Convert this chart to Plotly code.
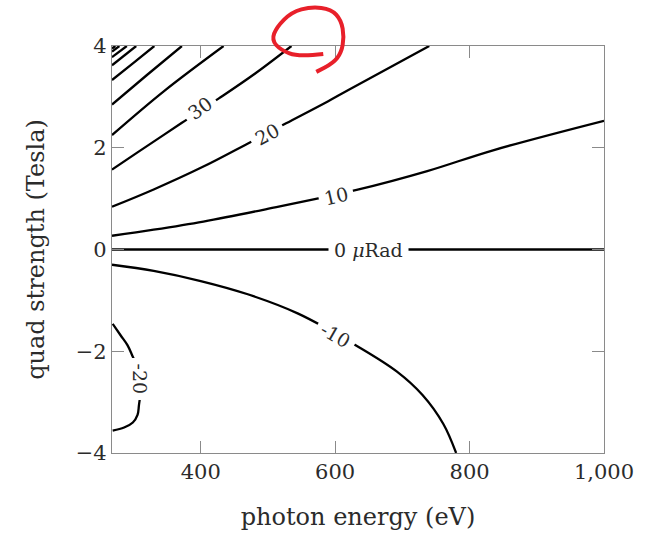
import plotly.graph_objects as go

# ---- data (photon energy in eV, quad strength in Tesla) ----
x_ticks = [400, 600, 800, 1000]
x_tick_text = ["400", "600", "800", "1,000"]
y_ticks = [-4, -2, 0, 2, 4]
y_tick_text = ["\u22124", "\u22122", "0", "2", "4"]

energy_p100 = [268, 273]
quad_p100 = [3.95, 4.0]
energy_p90 = [268, 279]
quad_p90 = [3.89, 4.0]
energy_p80 = [268, 290]
quad_p80 = [3.78, 4.0]
energy_p70 = [268, 304]
quad_p70 = [3.62, 4.0]
energy_p60 = [268, 300, 331]
quad_p60 = [3.33, 3.67, 4.0]
energy_p50 = [268, 320, 372]
quad_p50 = [2.85, 3.43, 4.0]
energy_p40 = [268, 345, 434]
quad_p40 = [2.25, 3.11, 4.0]
energy_p30 = [268, 306, 372, 427, 481, 535]
quad_p30 = [1.57, 1.91, 2.49, 2.97, 3.46, 4.0]
energy_p20 = [268, 330, 404, 471, 527, 589, 619, 740]
quad_p20 = [0.84, 1.18, 1.63, 2.09, 2.48, 2.91, 3.13, 4.0]
energy_p10 = [268, 330, 404, 493, 632, 737, 835, 1000]
quad_p10 = [0.27, 0.39, 0.55, 0.78, 1.17, 1.54, 1.95, 2.53]
energy_0 = [268, 1000]
quad_0 = [0.0, 0.0]
energy_m10 = [268, 330, 400, 470, 545, 633, 692, 730, 761, 780]
quad_m10 = [-0.30, -0.42, -0.62, -0.88, -1.26, -1.90, -2.40, -2.86, -3.43, -4.0]
energy_m20 = [269, 281, 291, 297, 311, 308, 306, 299, 286, 269]
quad_m20 = [-1.46, -1.69, -1.88, -2.05, -2.54, -3.07, -3.25, -3.40, -3.50, -3.56]

contours = [
    (energy_p100, quad_p100), (energy_p90, quad_p90), (energy_p80, quad_p80),
    (energy_p70, quad_p70), (energy_p60, quad_p60), (energy_p50, quad_p50),
    (energy_p40, quad_p40), (energy_p30, quad_p30), (energy_p20, quad_p20),
    (energy_p10, quad_p10), (energy_0, quad_0), (energy_m10, quad_m10),
    (energy_m20, quad_m20),
]

# contour labels: text, energy, quad, angle
label_text = ["30", "20", "10", "0 <i>\u03bc</i>Rad", "-10", "-20"]
label_energy = [399, 499, 601, 650, 600, 310]
label_quad = [2.78, 2.27, 1.06, 0.0, -1.69, -2.54]
label_angle = [-36, -28, -13, 0, 30, 90]

SERIF = "DejaVu Serif"
TEXT = "#2b2b2b"
AXC = "#8a8a8a"

fig = go.Figure()
for ex, qy in contours:
    fig.add_trace(go.Scatter(
        x=ex, y=qy, mode="lines",
        line=dict(color="black", width=2.3, shape="spline", smoothing=1.0),
        hoverinfo="skip", showlegend=False))

for t, ex, qy, a in zip(label_text, label_energy, label_quad, label_angle):
    fig.add_annotation(x=ex, y=qy, text=t, showarrow=False, textangle=a,
                       font=dict(family=SERIF, size=19, color=TEXT),
                       bgcolor="white", borderpad=5)

# red hand-drawn circle (pixel coords of the figure, converted to paper)
W, H = 646, 537
ML, MR, MT, MB = 112, 38, 46, 82
pw, ph = W - ML - MR, H - MT - MB
circle_px = [(325, 54), (300, 57), (282, 50), (273, 40), (278, 27), (293, 12),
             (313, 6.5), (333, 9), (343, 20), (346, 37), (343, 53), (335, 63), (318, 72)]
pts = [((px - ML) / pw, (H - MB - py) / ph) for px, py in circle_px]
path = "M {:.4f},{:.4f}".format(*pts[0])
for i in range(1, len(pts) - 1):
    mx = (pts[i][0] + pts[i + 1][0]) / 2
    my = (pts[i][1] + pts[i + 1][1]) / 2
    path += " Q {:.4f},{:.4f} {:.4f},{:.4f}".format(pts[i][0], pts[i][1], mx, my)
path += " L {:.4f},{:.4f}".format(*pts[-1])
fig.add_shape(type="path", path=path, xref="paper", yref="paper",
              line=dict(color="#e8202a", width=4))

axis_common = dict(
    showline=True, linecolor=AXC, linewidth=1.3, mirror="ticks",
    ticks="inside", ticklen=12, tickcolor=AXC, tickwidth=1,
    showgrid=False, zeroline=False,
    tickfont=dict(family=SERIF, size=21, color=TEXT),
)

fig.update_layout(
    width=W, height=H,
    margin=dict(l=ML, r=MR, t=MT, b=MB),
    paper_bgcolor="white", plot_bgcolor="white",
    xaxis=dict(range=[268, 1000], tickvals=x_ticks, ticktext=x_tick_text,
               title=dict(text="photon energy (eV)", standoff=24,
                          font=dict(family=SERIF, size=24, color=TEXT)),
               **axis_common),
    yaxis=dict(range=[-4, 4], tickvals=y_ticks, ticktext=y_tick_text,
               title=dict(text="quad strength (Tesla)", standoff=24,
                          font=dict(family=SERIF, size=24, color=TEXT)),
               **axis_common),
)

fig.write_html("out.html")
